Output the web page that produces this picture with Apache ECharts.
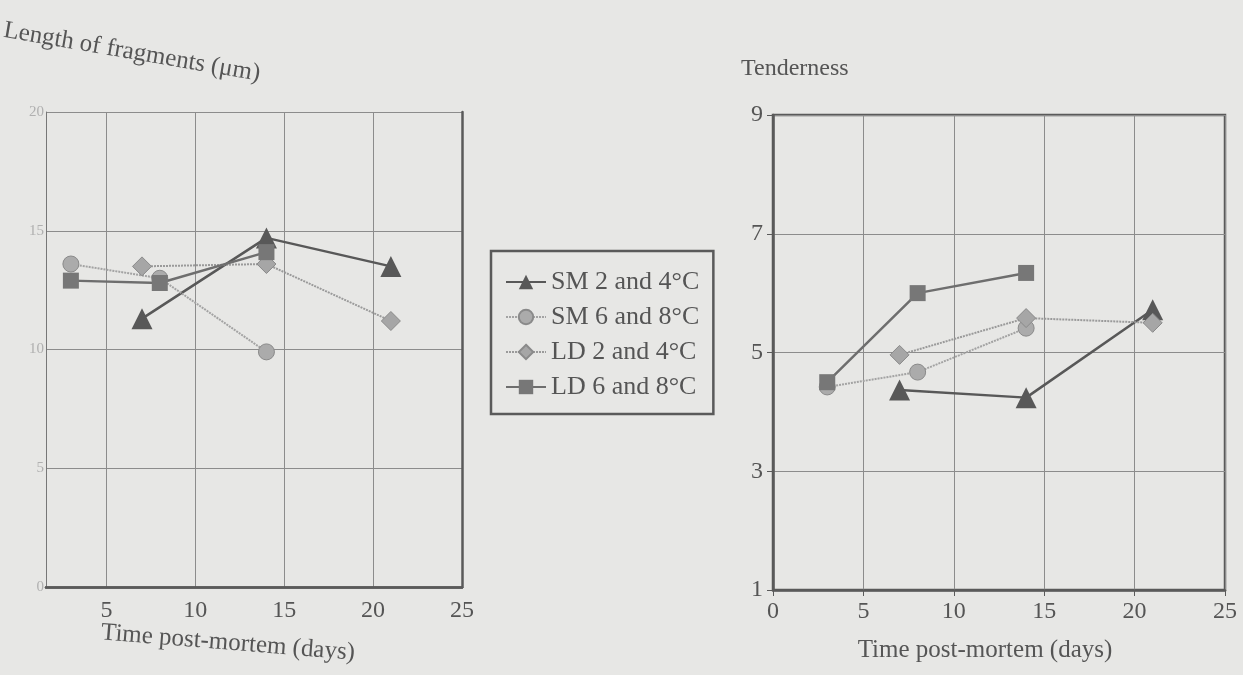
<!DOCTYPE html>
<html>
<head>
<meta charset="utf-8">
<script src="https://cdn.jsdelivr.net/npm/echarts@6/dist/echarts.min.js"></script>
<style>
  html, body { margin: 0; padding: 0; background: #e7e7e5; }
  #chart { width: 1243px; height: 675px; }
</style>
</head>
<body>
<div id="chart"></div>
<script>
  // series (legend) names
  const names = ['SM 2 and 4°C', 'SM 6 and 8°C', 'LD 2 and 4°C', 'LD 6 and 8°C'];

  // days post-mortem for each series
  const daysSM24 = [7, 14, 21];
  const daysSM68 = [3, 8, 14];
  const daysLD24 = [7, 14, 21];
  const daysLD68 = [3, 8, 14];

  // left panel: length of fragments (um)
  const lengthSM24 = [11.3, 14.7, 13.5];
  const lengthSM68 = [13.6, 13.0, 9.9];
  const lengthLD24 = [13.5, 13.6, 11.2];
  const lengthLD68 = [12.9, 12.8, 14.1];

  // right panel: tenderness
  const tenderSM24 = [4.37, 4.24, 5.72];
  const tenderSM68 = [4.42, 4.67, 5.41];
  const tenderLD24 = [4.96, 5.58, 5.5];
  const tenderLD68 = [4.5, 6.0, 6.34];

  // tick labels
  const xTicksLeft = [5, 10, 15, 20, 25];
  const xTicksRight = [0, 5, 10, 15, 20, 25];
  const yTicksLeft = [0, 5, 10, 15, 20];
  const yTicksRight = [1, 3, 5, 7, 9];

  const FONT = 'Liberation Serif';
  const INK = '#555';
  const FRAME = '#5a5a5a';
  const GRIDLINE = '#8c8c8c';

  const days = [daysSM24, daysSM68, daysLD24, daysLD68];
  const lengths = [lengthSM24, lengthSM68, lengthLD24, lengthLD68];
  const tenders = [tenderSM24, tenderSM68, tenderLD24, tenderLD68];

  const looks = [
    { symbol: 'triangle', size: 21, line: { color: '#585858', width: 2.5 }, item: { color: '#585858' } },
    { symbol: 'circle', size: 16, line: { color: '#a3a3a3', width: 2, type: [2, 1] }, item: { color: '#ababab', borderColor: '#8a8a8a', borderWidth: 1 } },
    { symbol: 'diamond', size: 19, line: { color: '#9a9a9a', width: 2, type: [2, 1] }, item: { color: '#a6a6a6', borderColor: '#8a8a8a', borderWidth: 1 } },
    { symbol: 'rect', size: 16, line: { color: '#6e6e6e', width: 2.5 }, item: { color: '#777' } }
  ];

  function makeSeries(values, xIdx, yIdx) {
    return names.map((name, i) => ({
      name,
      type: 'line',
      xAxisIndex: xIdx,
      yAxisIndex: yIdx,
      data: days[i].map((d, k) => [d, values[i][k]]),
      symbol: looks[i].symbol,
      symbolSize: looks[i].size,
      lineStyle: looks[i].line,
      itemStyle: looks[i].item,
      emphasis: { disabled: true },
      animation: false
    }));
  }

  const axisLabelStyle = { color: INK, fontFamily: FONT, fontSize: 24 };

  const myChart = echarts.init(document.getElementById('chart'));
  const option = {
    backgroundColor: '#e7e7e5',
    textStyle: { fontFamily: FONT, color: INK },
    grid: [
      { left: 46, right: 781, top: 112, bottom: 88 },
      { left: 773, right: 18, top: 115, bottom: 85, show: true, borderColor: FRAME, borderWidth: 2.5 }
    ],
    xAxis: [
      {
        type: 'value', gridIndex: 0, min: 1.6, max: 25,
        axisLine: { lineStyle: { color: FRAME, width: 2.5 } },
        axisTick: { show: false, customValues: xTicksLeft },
        axisLabel: Object.assign({ customValues: xTicksLeft, margin: 12 }, axisLabelStyle),
        splitLine: { lineStyle: { color: GRIDLINE, width: 1 } }
      },
      {
        type: 'value', gridIndex: 0, min: 1.6, max: 25, position: 'top',
        axisLine: { lineStyle: { color: FRAME, width: 2.5 } },
        axisTick: { show: false }, axisLabel: { show: false }, splitLine: { show: false }
      },
      {
        type: 'value', gridIndex: 1, min: 0, max: 25, interval: 5,
        axisLine: { lineStyle: { color: FRAME, width: 2.5 } },
        axisTick: { show: true, length: 6, lineStyle: { color: FRAME }, customValues: xTicksRight },
        axisLabel: Object.assign({ customValues: xTicksRight, margin: 10 }, axisLabelStyle),
        splitLine: { lineStyle: { color: GRIDLINE, width: 1 } }
      }
    ],
    yAxis: [
      {
        type: 'value', gridIndex: 0, min: 0, max: 20, interval: 5,
        axisLine: { show: true, lineStyle: { color: '#777', width: 1 } },
        axisTick: { show: false },
        axisLabel: { color: '#b0b0b0', fontFamily: FONT, fontSize: 15, margin: 2, customValues: yTicksLeft },
        splitLine: { lineStyle: { color: GRIDLINE, width: 1 } }
      },
      {
        type: 'value', gridIndex: 0, min: 0, max: 20, position: 'right',
        axisLine: { show: true, lineStyle: { color: FRAME, width: 2.5 } },
        axisTick: { show: false }, axisLabel: { show: false }, splitLine: { show: false }
      },
      {
        type: 'value', gridIndex: 1, min: 1, max: 9,
        axisLine: { show: true, lineStyle: { color: FRAME, width: 2.5 } },
        axisTick: { show: true, length: 6, lineStyle: { color: FRAME }, customValues: yTicksRight },
        axisLabel: Object.assign({ customValues: yTicksRight, margin: 10 }, axisLabelStyle),
        splitLine: { lineStyle: { color: GRIDLINE, width: 1 } }
      }
    ],
    legend: {
      data: names,
      orient: 'vertical',
      left: 491,
      top: 251,
      padding: [18, 14, 14, 14],
      itemGap: 9,
      itemWidth: 40,
      itemHeight: 18,
      borderColor: FRAME,
      borderWidth: 2.5,
      textStyle: { color: INK, fontFamily: FONT, fontSize: 26, lineHeight: 26 },
      selectedMode: false
    },
    graphic: [
      {
        type: 'text', x: 6, y: 18, rotation: -0.17,
        style: { text: 'Length of fragments (μm)', font: '25px "Liberation Serif"', fill: INK }
      },
      {
        type: 'text', x: 228, y: 643, rotation: -0.08,
        style: { text: 'Time post-mortem (days)', font: '25px "Liberation Serif"', fill: INK, align: 'center', verticalAlign: 'middle' }
      },
      {
        type: 'text', x: 741, y: 69,
        style: { text: 'Tenderness', font: '24px "Liberation Serif"', fill: INK, verticalAlign: 'middle' }
      },
      {
        type: 'text', x: 985, y: 650,
        style: { text: 'Time post-mortem (days)', font: '25px "Liberation Serif"', fill: INK, align: 'center', verticalAlign: 'middle' }
      }
    ],
    series: makeSeries(lengths, 0, 0).concat(makeSeries(tenders, 2, 2))
  };
  myChart.setOption(option);
</script>
</body>
</html>
